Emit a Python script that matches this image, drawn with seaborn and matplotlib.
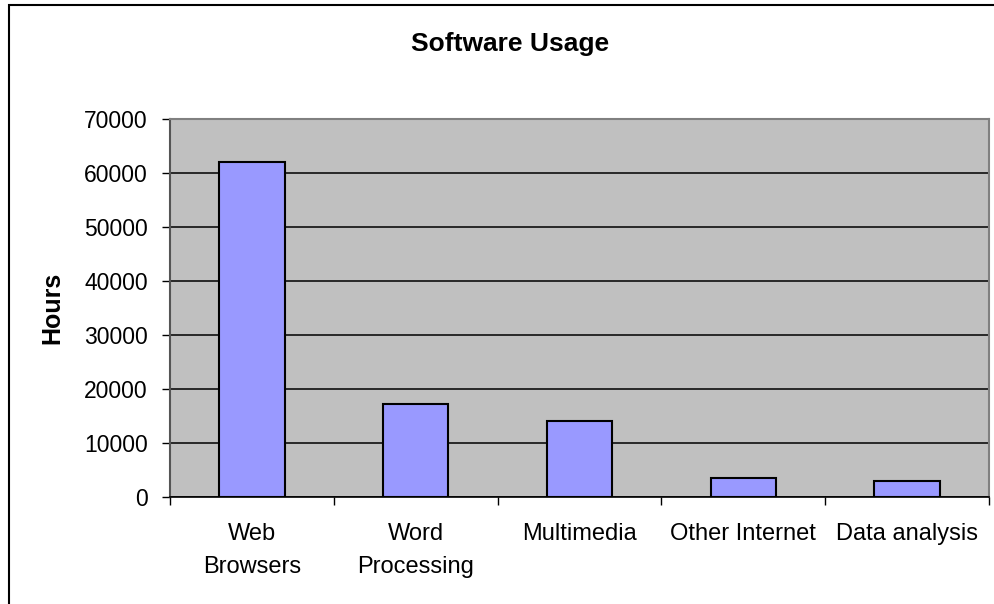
import matplotlib
matplotlib.use("Agg")
import matplotlib.pyplot as plt
import seaborn as sns
import pandas as pd
from matplotlib.patches import Rectangle
from matplotlib.ticker import FixedLocator

categories = ["Web\nBrowsers", "Word\nProcessing", "Multimedia", "Other Internet", "Data analysis"]
hours = [62000, 17300, 14000, 3600, 3000]
yticks = [0, 10000, 20000, 30000, 40000, 50000, 60000, 70000]

sns.set_style("white")
plt.rcParams['font.family'] = ['Liberation Sans', 'DejaVu Sans']
plt.rcParams['text.color'] = 'black'
plt.rcParams['xtick.color'] = 'black'
plt.rcParams['ytick.color'] = 'black'
plt.rcParams['axes.labelcolor'] = 'black'

W, H = 995, 604
fig = plt.figure(figsize=(W/100, H/100), dpi=100)
ax = fig.add_axes([170/W, (H-497)/H, (989-170)/W, (497-119)/H])

df = pd.DataFrame({"cat": categories, "hours": hours})
sns.barplot(data=df, x="cat", y="hours", color="#9999FF", width=0.4,
            edgecolor="black", linewidth=1.5, saturation=1, ax=ax, zorder=3)

ax.set_facecolor("#C0C0C0")
ax.set_ylim(0, 70000)
ax.set_xlim(-0.5, len(categories) - 0.5)
ax.set_yticks(yticks)
ax.set_yticklabels([str(v) for v in yticks], fontsize=16.5)
ax.yaxis.grid(True, color="black", linewidth=1.1, zorder=0)
ax.set_axisbelow(True)

ax.tick_params(axis="y", direction="out", length=6, width=1, color="black", pad=10, left=True)
ax.tick_params(axis="x", which="major", length=0, pad=19, labelsize=17)
ax.xaxis.set_minor_locator(FixedLocator([i - 0.5 for i in range(len(categories) + 1)]))
ax.tick_params(axis="x", which="minor", direction="out", length=6, width=1, color="black", bottom=True)
for lab in ax.get_xticklabels():
    lab.set_linespacing(1.6)

ax.set_xlabel("")
ax.set_ylabel("Hours", fontsize=18, fontweight="bold", labelpad=14)

for side in ["top", "right"]:
    ax.spines[side].set_color("#808080")
    ax.spines[side].set_linewidth(1.5)
ax.spines["left"].set_color("#555555")
ax.spines["left"].set_linewidth(1.5)
ax.spines["bottom"].set_color("black")
ax.spines["bottom"].set_linewidth(1.2)

fig.text(510/W, 1 - 44/H, "Software Usage", ha="center", va="center",
         fontsize=19, fontweight="bold")

fig.patches.append(Rectangle((9/W, -0.1), 1.2, 1 - 5/H + 0.1, transform=fig.transFigure,
                             fill=False, edgecolor="black", linewidth=1.5))

fig.savefig("out.png", dpi=100)
